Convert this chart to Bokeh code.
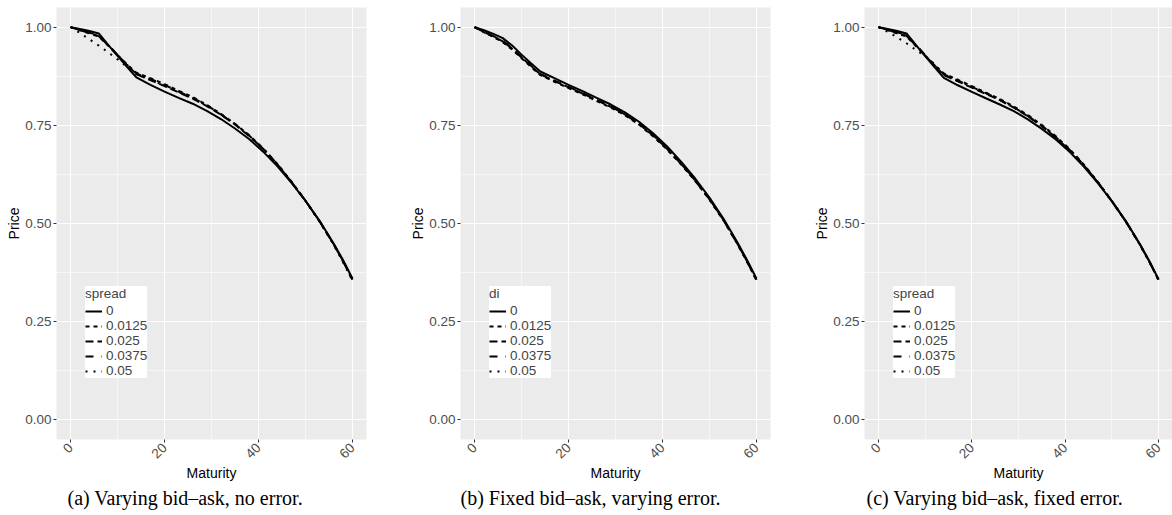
import math
from bokeh.plotting import figure
from bokeh.layouts import row
from bokeh.models import FixedTicker, Range1d, Title, PrintfTickFormatter
from bokeh.embed import file_html
from bokeh.resources import INLINE

# ---------------- data ----------------
maturity = [0, 2, 4, 6, 8, 10, 12, 14, 17, 20, 23, 26, 29, 32, 35, 38, 41, 44, 47, 50, 53, 56, 58, 60]
levels = ["0", "0.0125", "0.025", "0.0375", "0.05"]

# (a) varying bid-ask, no error  (legend: spread)
a_0      = [1.000, 0.995, 0.990, 0.984, 0.955, 0.927, 0.899, 0.872, 0.853, 0.836, 0.820, 0.805, 0.787, 0.766, 0.742, 0.715, 0.683, 0.646, 0.604, 0.558, 0.507, 0.449, 0.407, 0.360]
a_0125   = [1.000, 0.992, 0.984, 0.976, 0.953, 0.929, 0.905, 0.884, 0.870, 0.855, 0.838, 0.822, 0.802, 0.779, 0.754, 0.725, 0.691, 0.652, 0.607, 0.558, 0.505, 0.447, 0.404, 0.357]
a_025    = [1.000, 0.992, 0.985, 0.977, 0.954, 0.929, 0.904, 0.880, 0.865, 0.850, 0.834, 0.818, 0.799, 0.777, 0.752, 0.723, 0.690, 0.651, 0.606, 0.558, 0.506, 0.448, 0.405, 0.358]
a_0375   = [1.000, 0.993, 0.986, 0.979, 0.955, 0.929, 0.904, 0.882, 0.868, 0.853, 0.836, 0.820, 0.801, 0.778, 0.753, 0.724, 0.690, 0.651, 0.606, 0.558, 0.506, 0.447, 0.404, 0.357]
a_05     = [1.000, 0.985, 0.969, 0.953, 0.936, 0.918, 0.899, 0.880, 0.866, 0.851, 0.835, 0.819, 0.800, 0.778, 0.753, 0.724, 0.690, 0.651, 0.606, 0.558, 0.505, 0.446, 0.402, 0.355]

# (b) fixed bid-ask, varying error  (legend: di)
b_0      = [1.000, 0.992, 0.983, 0.972, 0.953, 0.930, 0.908, 0.887, 0.870, 0.853, 0.837, 0.820, 0.803, 0.783, 0.759, 0.730, 0.696, 0.657, 0.614, 0.566, 0.512, 0.451, 0.407, 0.360]
b_0125   = [1.000, 0.987, 0.975, 0.962, 0.943, 0.921, 0.899, 0.878, 0.861, 0.845, 0.829, 0.812, 0.795, 0.776, 0.752, 0.722, 0.688, 0.650, 0.608, 0.561, 0.508, 0.447, 0.403, 0.356]
b_025    = [1.000, 0.988, 0.976, 0.964, 0.945, 0.923, 0.901, 0.880, 0.863, 0.847, 0.831, 0.814, 0.797, 0.778, 0.754, 0.724, 0.690, 0.652, 0.609, 0.562, 0.509, 0.448, 0.404, 0.357]
b_0375   = [1.000, 0.988, 0.977, 0.965, 0.946, 0.924, 0.902, 0.881, 0.864, 0.848, 0.832, 0.815, 0.798, 0.778, 0.754, 0.725, 0.691, 0.652, 0.610, 0.563, 0.509, 0.448, 0.404, 0.357]
b_05     = [1.000, 0.987, 0.976, 0.963, 0.944, 0.922, 0.900, 0.879, 0.862, 0.846, 0.830, 0.813, 0.796, 0.777, 0.753, 0.723, 0.689, 0.651, 0.609, 0.561, 0.508, 0.447, 0.403, 0.356]

# (c) varying bid-ask, fixed error  (legend: spread)
c_0      = [1.000, 0.995, 0.990, 0.984, 0.955, 0.926, 0.898, 0.871, 0.852, 0.835, 0.819, 0.803, 0.786, 0.765, 0.741, 0.714, 0.682, 0.645, 0.603, 0.557, 0.506, 0.448, 0.405, 0.358]
c_0125   = [1.000, 0.992, 0.984, 0.976, 0.952, 0.928, 0.903, 0.882, 0.866, 0.850, 0.833, 0.817, 0.798, 0.776, 0.751, 0.722, 0.689, 0.650, 0.606, 0.557, 0.505, 0.447, 0.404, 0.357]
c_025    = [1.000, 0.993, 0.985, 0.978, 0.953, 0.928, 0.902, 0.878, 0.862, 0.846, 0.830, 0.814, 0.795, 0.773, 0.748, 0.719, 0.686, 0.648, 0.605, 0.557, 0.505, 0.447, 0.404, 0.357]
c_0375   = [1.000, 0.994, 0.987, 0.980, 0.955, 0.929, 0.903, 0.880, 0.864, 0.848, 0.832, 0.815, 0.796, 0.774, 0.749, 0.720, 0.687, 0.649, 0.605, 0.557, 0.505, 0.447, 0.404, 0.357]
c_05     = [1.000, 0.988, 0.974, 0.959, 0.942, 0.926, 0.906, 0.880, 0.864, 0.848, 0.832, 0.815, 0.796, 0.774, 0.749, 0.720, 0.687, 0.649, 0.605, 0.557, 0.505, 0.446, 0.403, 0.356]

x_ticks = [0, 20, 40, 60]
x_minor = [10, 30, 50]
y_ticks = [0, 0.25, 0.5, 0.75, 1.0]
y_minor = [0.125, 0.375, 0.625, 0.875]

x_title = "Maturity"
y_title = "Price"
captions = ["(a) Varying bid\u2013ask, no error.",
            "(b) Fixed bid\u2013ask, varying error.",
            "(c) Varying bid\u2013ask, fixed error."]
legend_titles = ["spread", "di", "spread"]

# ---------------- styles ----------------
dashes = ["solid", "4 4", "8 4", "8 8", "2 6"]
SANS = "Liberation Sans"
SERIF = "Liberation Serif"


def make_panel(series, legend_title, caption, width, border_right, cap_offset):
    p = figure(width=width, height=512, output_backend="svg", toolbar_location=None,
               x_range=Range1d(-3, 63), y_range=Range1d(-0.05, 1.05),
               min_border_left=56, min_border_right=border_right,
               min_border_top=7, min_border_bottom=73)
    p.background_fill_color = "#EBEBEB"
    p.border_fill_color = "white"
    p.outline_line_color = None

    p.xaxis.ticker = FixedTicker(ticks=x_ticks, minor_ticks=x_minor)
    p.yaxis.ticker = FixedTicker(ticks=y_ticks, minor_ticks=y_minor)
    p.yaxis.formatter = PrintfTickFormatter(format="%.2f")
    p.xgrid.ticker = FixedTicker(ticks=x_ticks, minor_ticks=x_minor)
    p.ygrid.ticker = FixedTicker(ticks=y_ticks, minor_ticks=y_minor)

    for g in (p.xgrid, p.ygrid):
        g.grid_line_color = "white"
        g.grid_line_width = 1.1
        g.minor_grid_line_color = "white"
        g.minor_grid_line_width = 0.55

    for ax in (p.xaxis, p.yaxis):
        ax.axis_line_color = None
        ax.major_tick_line_color = "#333333"
        ax.major_tick_in = 0
        ax.major_tick_out = 3
        ax.minor_tick_line_color = None
        ax.major_label_text_color = "#4D4D4D"
        ax.major_label_text_font = SANS
        ax.major_label_text_font_size = "13.5px"
        ax.axis_label_text_font = SANS
        ax.axis_label_text_font_size = "14px"
        ax.axis_label_text_font_style = "normal"
        ax.axis_label_text_color = "black"
        ax.major_label_standoff = 1
        ax.axis_label_standoff = 0
    p.xaxis.axis_label = x_title
    p.yaxis.axis_label = y_title
    p.xaxis.major_label_orientation = math.pi / 4
    p.xaxis.major_label_standoff = 2

    for vals, lab, dash in zip(series, levels, dashes):
        p.line(maturity, vals, line_color="black", line_width=2, line_dash=dash,
               legend_label=lab)

    lg = p.legend[0]
    lg.title = legend_title
    lg.title_text_font = SANS
    lg.title_text_font_size = "13.5px"
    lg.title_text_font_style = "normal"
    lg.title_standoff = 2
    lg.label_text_font = SANS
    lg.label_text_font_size = "13.5px"
    lg.label_height = 14
    lg.glyph_height = 14
    lg.glyph_width = 17
    lg.label_standoff = 4
    lg.spacing = 0
    lg.padding = 5
    lg.margin = 0
    lg.border_line_color = None
    lg.background_fill_color = "white"
    lg.background_fill_alpha = 1.0
    lg.location = (29, 61)

    cap = Title(text=caption, align="left", offset=cap_offset, standoff=0,
                text_font=SERIF, text_font_size="20px", text_font_style="normal",
                text_color="black")
    p.add_layout(cap, "below")
    return p


pa = make_panel([a_0, a_0125, a_025, a_0375, a_05], legend_titles[0], captions[0], 404, 38, 11)
pb = make_panel([b_0, b_0125, b_025, b_0375, b_05], legend_titles[1], captions[1], 404, 38, 0)
pc = make_panel([c_0, c_0125, c_025, c_0375, c_05], legend_titles[2], captions[2], 364, 0, 2)

layout = row(pa, pb, pc, spacing=0)
open("out.html", "w").write(file_html(layout, INLINE))
